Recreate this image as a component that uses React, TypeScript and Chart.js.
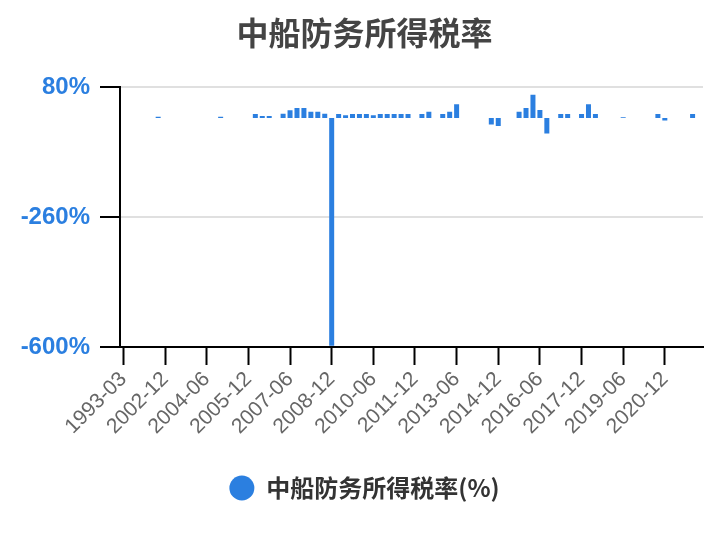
import { useEffect, useRef } from "react";
import { Chart, registerables } from "chart.js";

Chart.register(...registerables);

// reporting dates (first few are irregular, then quarterly)
const periods = [
  "1993-03", "2001-06", "2001-12", "2002-03", "2002-06", "2002-09",
  "2002-12", "2003-03", "2003-06", "2003-09", "2003-12", "2004-03",
  "2004-06", "2004-09", "2004-12", "2005-03", "2005-06", "2005-09",
  "2005-12", "2006-03", "2006-06", "2006-09", "2006-12", "2007-03",
  "2007-06", "2007-09", "2007-12", "2008-03", "2008-06", "2008-09",
  "2008-12", "2009-03", "2009-06", "2009-09", "2009-12", "2010-03",
  "2010-06", "2010-09", "2010-12", "2011-03", "2011-06", "2011-09",
  "2011-12", "2012-03", "2012-06", "2012-09", "2012-12", "2013-03",
  "2013-06", "2013-09", "2013-12", "2014-03", "2014-06", "2014-09",
  "2014-12", "2015-03", "2015-06", "2015-09", "2015-12", "2016-03",
  "2016-06", "2016-09", "2016-12", "2017-03", "2017-06", "2017-09",
  "2017-12", "2018-03", "2018-06", "2018-09", "2018-12", "2019-03",
  "2019-06", "2019-09", "2019-12", "2020-03", "2020-06", "2020-09",
  "2020-12", "2021-03", "2021-06", "2021-09", "2021-12", "2022-03",
];

// income tax rate (%), null = no value reported
const taxRate: (number | null)[] = [
  null, null, null, null, null, 3,
  null, null, null, null, null, null,
  null, null, 3, null, null, null,
  null, 10, 5, 5, null, 11,
  20, 26, 26, 16, 16, 11,
  -597, 10, 7, 10, 10, 10,
  7, 10, 10, 10, 10, 10,
  null, 10, 16, null, 10, 16,
  36, null, null, null, null, -17,
  -21, null, null, 16, 26, 61,
  21, -41, null, 10, 10, null,
  10, 36, 10, null, null, null,
  2, null, null, null, null, 10,
  -7, null, null, null, 10, null,
];

const yTicks = [-600, -260, 80];

const seriesName = "中船防务所得税率(%)";
const titleText = "中船防务所得税率";
const barColor = "#2b7fe0";

export default function App() {
  const chartRef = useRef<HTMLCanvasElement>(null);
  const chartInstance = useRef<Chart | null>(null);

  useEffect(() => {
    if (!chartRef.current) return;
    if (chartInstance.current) {
      chartInstance.current.destroy();
    }

    const ctx = chartRef.current.getContext("2d");
    if (!ctx) return;

    chartInstance.current = new Chart(ctx, {
      type: "bar",
      data: {
        labels: periods,
        datasets: [
          {
            label: seriesName,
            data: taxRate,
            backgroundColor: barColor,
            borderWidth: 0,
          },
        ],
      },
      options: {
        animation: false,
        responsive: true,
        maintainAspectRatio: false,
        layout: {
          padding: { top: 0, right: 21, bottom: 30, left: 26 },
        },
        plugins: {
          title: {
            display: true,
            text: titleText,
            color: "#444",
            font: { family: "'Noto Sans CJK SC'", size: 32, weight: "bold" },
            padding: { top: 14, bottom: 35 },
          },
          legend: {
            position: "bottom",
            labels: {
              usePointStyle: true,
              pointStyle: "circle",
              pointStyleWidth: 25,
              boxHeight: 17.7,
              padding: 10,
              color: "#333",
              font: { family: "'Noto Sans CJK SC'", size: 24, weight: "bold" },
            },
          },
          tooltip: { enabled: false },
        },
        scales: {
          x: {
            afterFit: (scale) => {
              scale.height = 119;
            },
            grid: {
              offset: false,
              drawOnChartArea: false,
              tickLength: 18,
              tickWidth: 2,
              tickColor: (c) => (c.index % 6 === 0 ? "#000" : "rgba(0,0,0,0)"),
            },
            border: { color: "#000", width: 2 },
            ticks: {
              autoSkip: false,
              maxRotation: 45,
              minRotation: 45,
              padding: 2,
              color: "#666",
              font: { family: "'Liberation Sans'", size: 21 },
              callback: (_v, i) => (i % 6 === 0 ? periods[i] : ""),
            },
          },
          y: {
            min: yTicks[0],
            max: yTicks[yTicks.length - 1],
            afterFit: (scale) => {
              scale.width = 94;
              // let the tick labels run into the left padding instead of clipping them
              (scale as any)._computeLabelArea = () => undefined;
            },
            afterBuildTicks: (scale) => {
              scale.ticks = yTicks.map((v) => ({ value: v }));
            },
            grid: {
              color: "#e0e0e0",
              lineWidth: 2,
              tickLength: 20,
              tickWidth: 2,
              tickColor: "#000",
            },
            border: { color: "#000", width: 2 },
            ticks: {
              padding: 10,
              color: barColor,
              font: { family: "'Liberation Sans'", size: 24, weight: "bold" },
              callback: (v) => `${v}%`,
            },
          },
        },
      },
    });

    return () => {
      if (chartInstance.current) {
        chartInstance.current.destroy();
        chartInstance.current = null;
      }
    };
  }, []);

  return (
    <div
      style={{
        position: "fixed",
        left: 0,
        top: 0,
        width: 724,
        height: 540,
        background: "#fff",
      }}
    >
      <canvas ref={chartRef} />
    </div>
  );
}
